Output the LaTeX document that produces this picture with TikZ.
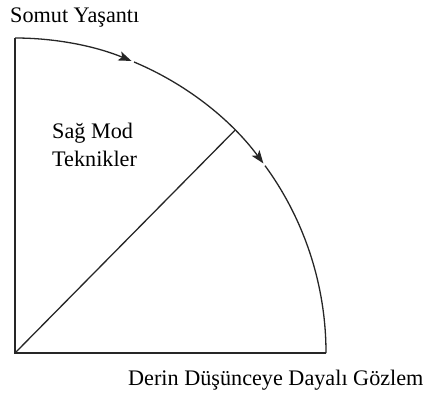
\documentclass[tikz,border=0pt]{standalone}
\usepackage{fontspec}
\setmainfont{Liberation Serif}
\usetikzlibrary{arrows.meta}
\begin{document}
\begin{tikzpicture}[x=1pt,y=-1pt,
  edge/.style={line width=1.3pt,draw=black!85},
  arrowed/.style={edge,-{Stealth[length=13pt,width=9.5pt,inset=3pt]}},
  lbl/.style={inner sep=0pt,anchor=base west,font=\fontsize{22.2}{28}\selectfont}]
\useasboundingbox (0,0) rectangle (427,399);
\coordinate (O) at (15,353);
\coordinate (T) at (15,38);
\coordinate (R) at (326,353);
\coordinate (D) at ([shift={(45:311pt and 315pt)}]O);
\coordinate (A1) at ([shift={(67.5:311pt and 315pt)}]O);
\coordinate (A2) at ([shift={(36.5:311pt and 315pt)}]O);
\draw[edge] (T) -- (O) -- (R);
\draw[edge] (O) -- (D);
\draw[arrowed] (T) arc[start angle=90,end angle=68,x radius=311pt,y radius=315pt];
\draw[arrowed] (A1) arc[start angle=67.5,end angle=37,x radius=311pt,y radius=315pt];
\draw[edge] (A2) arc[start angle=36.5,end angle=0,x radius=311pt,y radius=315pt];
\node[lbl] (somut) at (10,22) {Somut Yaşantı};
\node[lbl] (sag) at (52,138) {Sağ Mod};
\node[lbl] (tek) at (52,166.5) {Teknikler};
\node[lbl] (derin) at (128,385) {Derin Düşünceye Dayalı Gözlem};
\end{tikzpicture}
\end{document}
